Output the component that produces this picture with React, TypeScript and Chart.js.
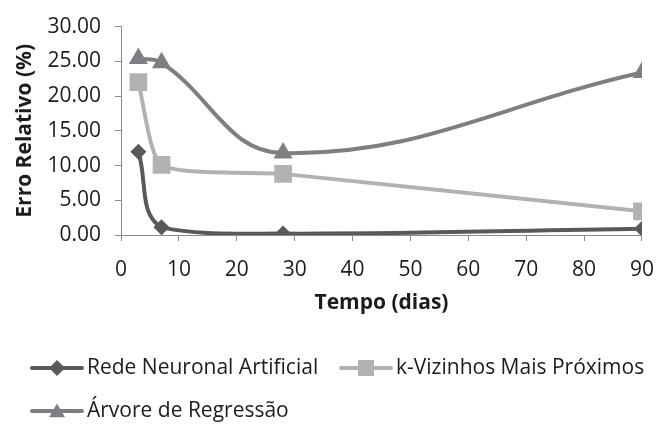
import React, { useEffect, useRef } from "react";
import { Chart, registerables } from "chart.js";

Chart.register(...registerables);

// Days of testing and relative error (%) of each model
const days = [3, 7, 28, 90];
const redeNeuronal = [12.0, 1.1, 0.2, 0.9];
const kVizinhos = [22.0, 10.1, 8.8, 3.4];
const arvoreRegressao = [25.4, 24.8, 11.8, 23.4];

const seriesLabels = [
  "Rede Neuronal Artificial",
  "k-Vizinhos Mais Próximos",
  "Árvore de Regressão",
];
const yTitle = "Erro Relativo (%)";
const xTitle = "Tempo (dias)";

const FONT = "'Open Sans', 'Lato', sans-serif";
const AXIS_GREY = "#8a8a8a";
const TEXT = "#1c1c1c";

const colors = ["#59595b", "#b2b2b4", "#7e7e83"];
const pointStyles = ["rectRot", "rect", "triangle"];
const pointRadii = [8, 12.5, 11];
const tensions = [0.4, 0.2, 0.4];

function drawMarker(ctx: CanvasRenderingContext2D, style: string, x: number, y: number, r: number) {
  ctx.beginPath();
  if (style === "rectRot") {
    ctx.moveTo(x, y - r);
    ctx.lineTo(x + r, y);
    ctx.lineTo(x, y + r);
    ctx.lineTo(x - r, y);
  } else if (style === "rect") {
    ctx.rect(x - r, y - r, 2 * r, 2 * r);
  } else {
    const h = r * 1.732;
    ctx.moveTo(x, y - h * 0.55);
    ctx.lineTo(x + r, y + h * 0.45);
    ctx.lineTo(x - r, y + h * 0.45);
  }
  ctx.closePath();
  ctx.fill();
}

// Legend laid out in two rows below the axis, each entry a line with its marker
const legendPlugin = {
  id: "lineMarkerLegend",
  afterDraw(chart: any) {
    const ctx: CanvasRenderingContext2D = chart.ctx;
    const slots = [
      { x: 32, y: 368 },
      { x: 341, y: 368 },
      { x: 32, y: 411 },
    ];
    chart.data.datasets.forEach((ds: any, i: number) => {
      const { x, y } = slots[i];
      ctx.save();
      ctx.strokeStyle = ds.borderColor;
      ctx.lineWidth = 4;
      ctx.lineCap = "round";
      ctx.beginPath();
      ctx.moveTo(x, y);
      ctx.lineTo(x + 50, y);
      ctx.stroke();
      ctx.fillStyle = ds.borderColor;
      drawMarker(ctx, ds.pointStyle, x + 25, y, 8);
      ctx.fillStyle = TEXT;
      ctx.font = `21px ${FONT}`;
      ctx.textBaseline = "middle";
      ctx.textAlign = "left";
      ctx.fillText(ds.label, x + 55, y);
      ctx.restore();
    });
  },
};

export default function App() {
  const canvasRef = useRef<HTMLCanvasElement | null>(null);

  useEffect(() => {
    const canvas = canvasRef.current;
    if (!canvas) return;
    const values = [redeNeuronal, kVizinhos, arvoreRegressao];
    const chart = new Chart(canvas, {
      type: "line",
      data: {
        datasets: values.map((vals, i) => ({
          label: seriesLabels[i],
          data: days.map((d, j) => ({ x: d, y: vals[j] })),
          borderColor: colors[i],
          backgroundColor: colors[i],
          borderWidth: 4,
          pointStyle: pointStyles[i],
          pointRadius: pointRadii[i],
          pointBorderWidth: 0,
          pointBackgroundColor: colors[i],
          tension: tensions[i],
          fill: false,
        })),
      } as any,
      options: {
        animation: false,
        responsive: false,
        events: [],
        layout: { padding: { left: 12, right: 15, top: 18, bottom: 109 } },
        plugins: {
          legend: { display: false },
          tooltip: { enabled: false },
        },
        scales: {
          x: {
            type: "linear",
            min: 0,
            max: 90,
            ticks: {
              stepSize: 10,
              color: TEXT,
              font: { family: FONT, size: 21 },
              padding: 16,
              maxRotation: 0,
            },
            grid: {
              drawOnChartArea: false,
              drawTicks: true,
              tickLength: 6,
              color: AXIS_GREY,
            },
            border: { color: AXIS_GREY, width: 1 },
            title: {
              display: true,
              text: xTitle,
              color: TEXT,
              font: { family: FONT, size: 21, weight: "bold" },
              padding: { top: 0, bottom: 0 },
            },
            afterFit(scale: any) {
              scale.height = 81;
            },
          },
          y: {
            min: 0,
            max: 30,
            ticks: {
              stepSize: 5,
              color: TEXT,
              font: { family: FONT, size: 21 },
              padding: 14,
              callback: (v: any) => Number(v).toFixed(2),
            },
            grid: {
              drawOnChartArea: false,
              drawTicks: true,
              tickLength: 6,
              color: AXIS_GREY,
            },
            border: { color: AXIS_GREY, width: 1 },
            title: {
              display: true,
              text: yTitle,
              color: TEXT,
              font: { family: FONT, size: 21, weight: "bold" },
              padding: { top: 0, bottom: 0 },
            },
            afterFit(scale: any) {
              scale.width = 109;
            },
          },
        },
      } as any,
      plugins: [legendPlugin],
    });
    return () => chart.destroy();
  }, []);

  return (
    <div style={{ position: "fixed", left: 0, top: 0, width: 670, height: 425, background: "#fff" }}>
      <canvas ref={canvasRef} width={670} height={425} />
    </div>
  );
}
